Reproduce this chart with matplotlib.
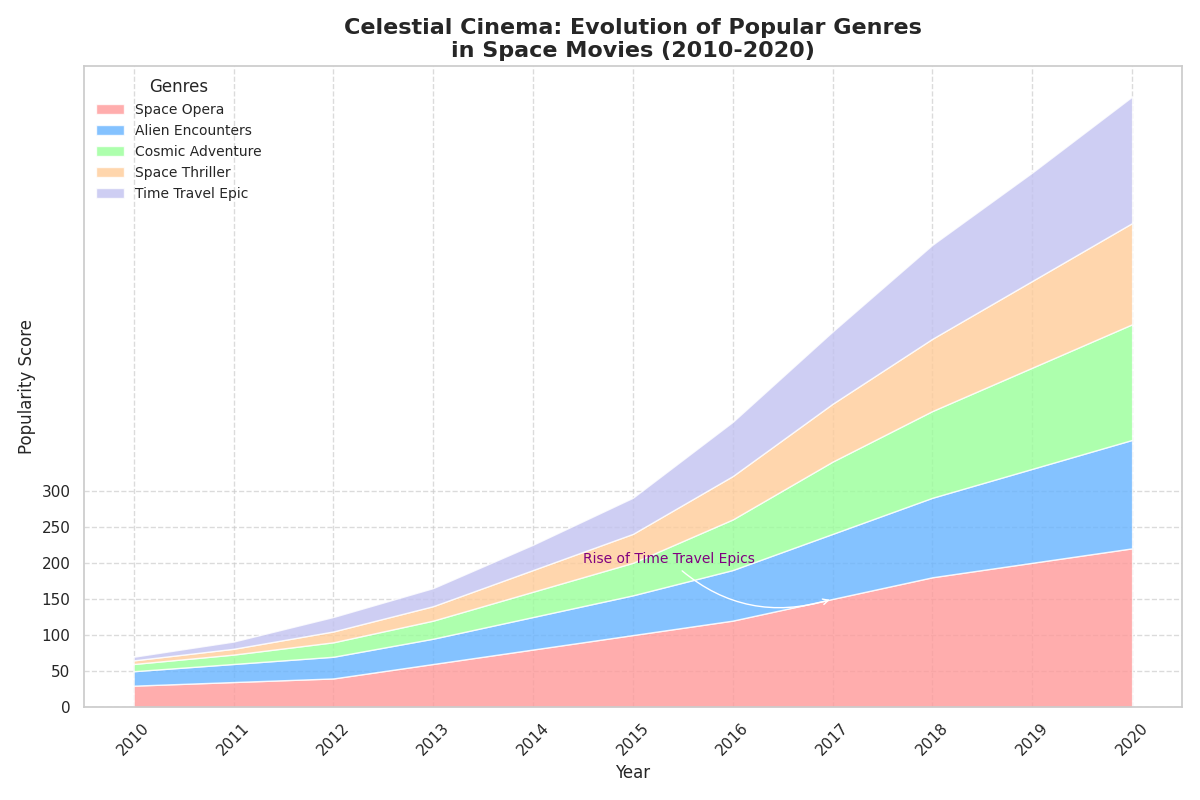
import matplotlib
matplotlib.use("Agg")
import matplotlib.pyplot as plt
import seaborn as sns

years = list(range(2010, 2021))
space_opera = [30, 35, 40, 60, 80, 100, 120, 150, 180, 200, 220]
alien_encounters = [20, 25, 30, 35, 45, 55, 70, 90, 110, 130, 150]
cosmic_adventure = [10, 13, 20, 25, 35, 45, 70, 100, 120, 140, 160]
space_thriller = [5, 8, 15, 20, 30, 40, 60, 80, 100, 120, 140]
time_travel_epic = [5, 10, 20, 25, 35, 50, 75, 100, 130, 150, 175]

labels = ["Space Opera", "Alien Encounters", "Cosmic Adventure", "Space Thriller", "Time Travel Epic"]
colors = ["#ff9999", "#66b3ff", "#99ff99", "#ffcc99", "#c2c2f0"]

sns.set_theme(style="whitegrid")
fig, ax = plt.subplots(figsize=(12, 8))
ax.stackplot(years, space_opera, alien_encounters, cosmic_adventure, space_thriller,
             time_travel_epic, labels=labels, colors=colors, alpha=0.8)

ax.set_title("Celestial Cinema: Evolution of Popular Genres\nin Space Movies (2010-2020)",
             fontsize=16, fontweight="bold")
ax.set_xlabel("Year", fontsize=12)
ax.set_ylabel("Popularity Score", fontsize=12)
ax.set_xticks(years)
ax.set_xticklabels(years, rotation=45)
ax.set_yticks([0, 50, 100, 150, 200, 250, 300])
ax.set_ylim(0, 888)
ax.set_xlim(2009.5, 2020.5)
ax.grid(True, linestyle="--", alpha=0.7)
for s in ax.spines.values():
    s.set_edgecolor("#cccccc")

ax.annotate("Rise of Time Travel Epics", xy=(2017, 150), xytext=(2014.5, 200),
            color="purple", fontsize=10,
            arrowprops=dict(arrowstyle="->", color="white", connectionstyle="arc3,rad=0.3"))

ax.legend(loc="upper left", title="Genres", fontsize=10, title_fontsize=12, frameon=False)
plt.tight_layout()
plt.savefig("out.png", dpi=100)
